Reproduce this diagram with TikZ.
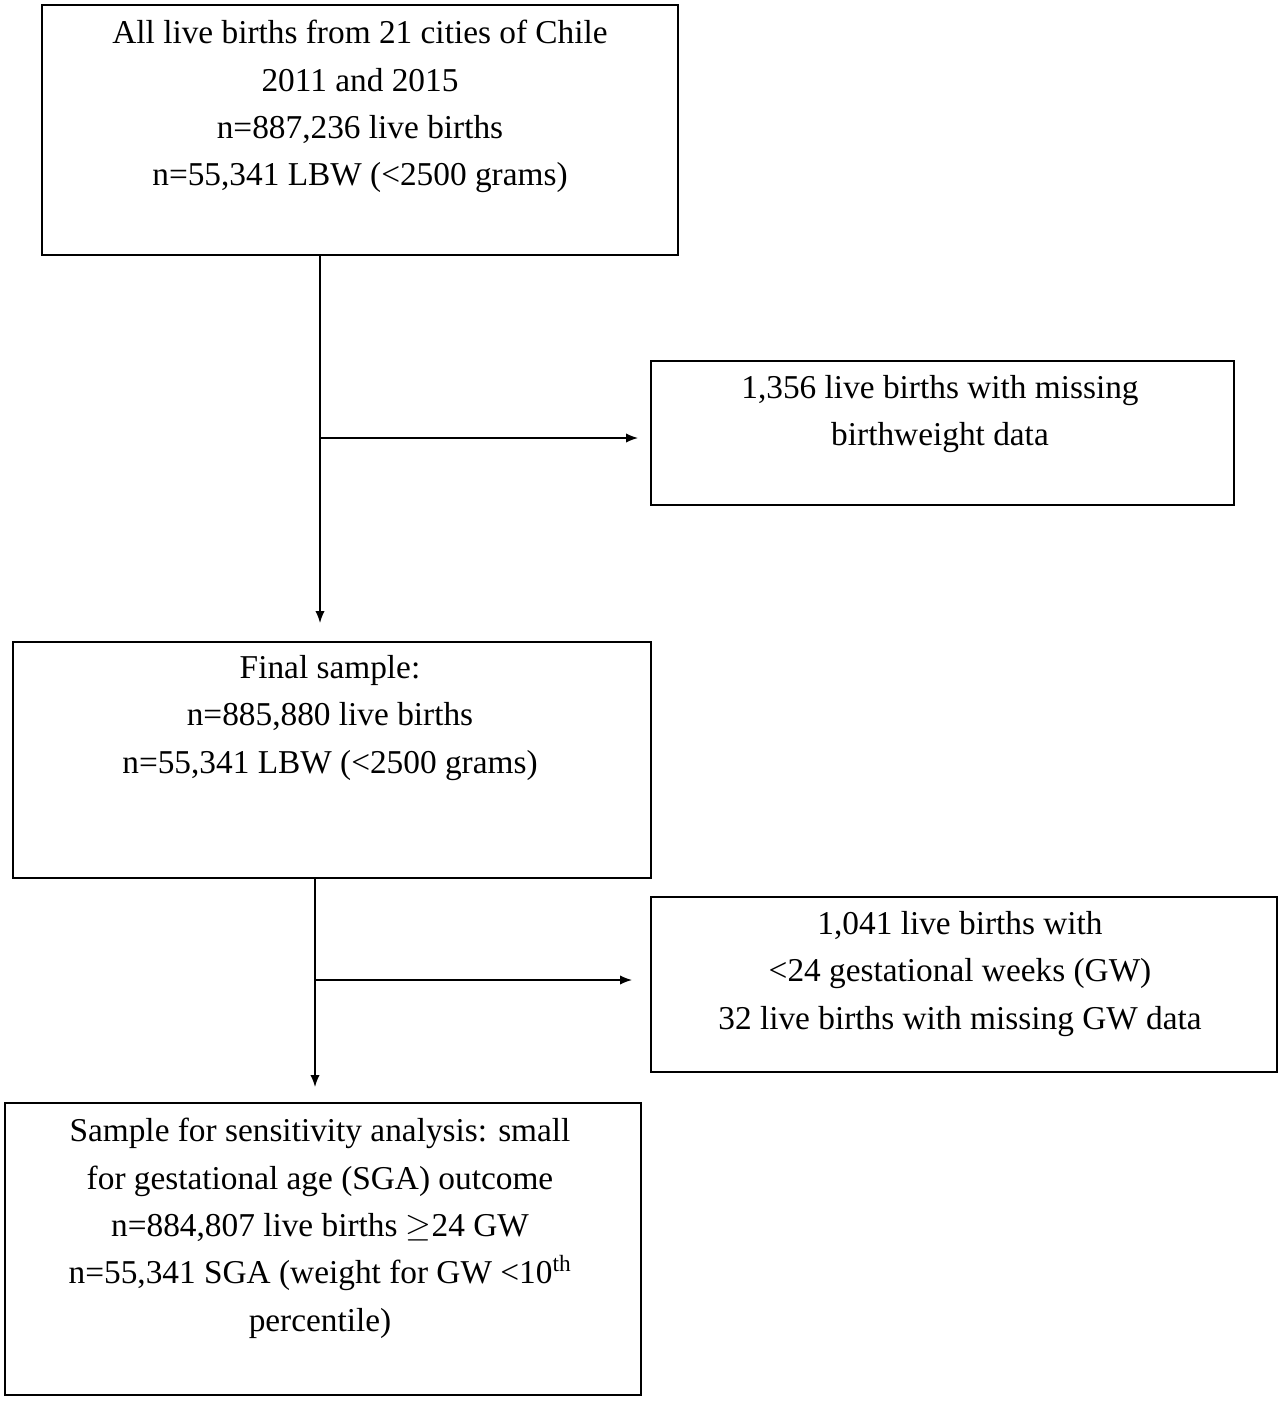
\documentclass[tikz,border=0pt]{standalone}
\usepackage{fontspec}
\setmainfont{Liberation Serif}
\usetikzlibrary{arrows.meta}
\begin{document}
\begin{tikzpicture}[x=0.75pt,y=-0.75pt,
  box/.style={draw,line width=1.2pt,inner sep=0pt},
  txt/.style={anchor=north,align=center,inner sep=0pt,font=\fontsize{25}{35.5}\selectfont},
  arr/.style={-{Latex[length=9pt,width=7pt]},line width=1pt}]
\useasboundingbox (0,0) rectangle (1280,1405);
\node[box,minimum width=636*0.75pt,minimum height=250*0.75pt] (b1) at (360,130) {};
\node[box,minimum width=583*0.75pt,minimum height=144*0.75pt] (b2) at (942.5,433) {};
\node[box,minimum width=638*0.75pt,minimum height=236*0.75pt] (b3) at (332,760) {};
\node[box,minimum width=626*0.75pt,minimum height=175*0.75pt] (b4) at (964,984.5) {};
\node[box,minimum width=636*0.75pt,minimum height=292*0.75pt] (b5) at (323,1249) {};
\node[txt] (t1) at (360,20) {All live births from 21 cities of Chile\\2011 and 2015\\n=887,236 live births\\n=55,341 LBW (<2500 grams)};
\node[txt] (t2) at (940,375) {1,356 live births with missing\\birthweight data};
\node[txt] (t3) at (330,655) {Final sample:\\n=885,880 live births\\n=55,341 LBW (<2500 grams)};
\node[txt] (t4) at (960,911) {1,041 live births with\\<24 gestational weeks (GW)\\32 live births with missing GW data};
\node[txt] (t5) at (320,1118) {Sample for sensitivity analysis: small\\for gestational age (SGA) outcome\\n=884,807 live births \(\geq\)24 GW\\n=55,341 SGA (weight for GW <10\textsuperscript{th}\\percentile)};
\coordinate (s1) at (320,255);
\coordinate (e1) at (320,623);
\coordinate (j1) at (320,438);
\coordinate (h1) at (638,438);
\draw[arr] (s1) -- (e1);
\draw[arr] (j1) -- (h1);
\coordinate (s2) at (315,878);
\coordinate (e2) at (315,1087);
\coordinate (j2) at (315,980);
\coordinate (h2) at (632,980);
\draw[arr] (s2) -- (e2);
\draw[arr] (j2) -- (h2);
\end{tikzpicture}
\end{document}
